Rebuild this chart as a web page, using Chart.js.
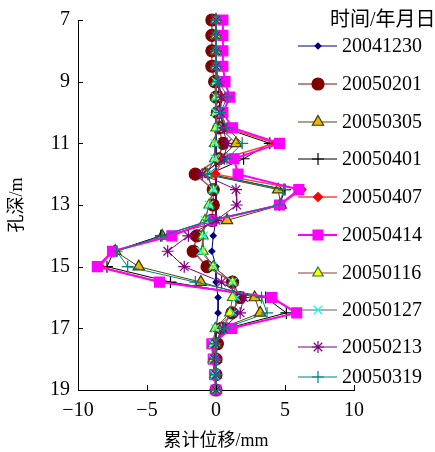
<!DOCTYPE html>
<html>
<head>
<meta charset="utf-8">
<script src="https://cdn.jsdelivr.net/npm/chart.js@4"></script>
<style>
  body { margin: 0; background: #fff; }
  #wrap { width: 435px; height: 452px; }
</style>
</head>
<body>
<div id="wrap"><canvas id="chart" width="435" height="452"></canvas></div>
<script>
// hole depth (m)
const depth = [7, 7.5, 8, 8.5, 9, 9.5, 10, 10.5, 11, 11.5, 12, 12.5, 13, 13.5, 14, 14.5, 15, 15.5, 16, 16.5, 17, 17.5, 18, 18.5, 19];

const seriesNames = ['20041230', '20050201', '20050305', '20050401', '20050407', '20050414', '20050116', '20050127', '20050213', '20050319'];

// accumulated displacement (mm), one array per date
const d20041230 = [0, 0, 0, 0, 0, 0, 0, 0, 0, 0, 0, 0, 0, 0, -0.2, -0.3, 0, 0, 0.15, 0.15, 0, 0, 0, 0, 0];
const d20050201 = [-0.3, -0.3, -0.3, -0.3, -0.1, 0, 0.1, 0.2, 0.5, 0.2, -1.5, -0.2, -0.2, -0.3, -1.4, -1.65, -0.65, 1.2, 1.75, 1.15, 0.4, 0.1, 0, 0, 0];
const d20050305 = [0, 0, 0, 0, 0.1, 0.3, 0.2, 0.3, 1.45, 0.3, -0.8, 4.5, 4.7, 0.8, -3.9, -7.3, -5.6, -1.1, 2.8, 3.2, 0.4, 0, 0, 0, 0];
const d20050401 = [0, 0, 0, 0, 0.1, 0.3, 0.3, 0.6, 3.9, 2.0, -0.5, 5.0, 4.6, -0.3, -4.0, -7.4, -7.9, -3.3, 3.6, 5.1, 0.8, 0, 0, 0, 0];
const d20050407 = [0, 0, 0, 0, 0.1, 0.4, 0.3, 0.8, 4.3, 0.5, -0.05, 6.2, 4.6, -0.3, -3.3, -7.5, -8.4, -4.0, 4.0, 5.8, 1.0, -0.2, 0, 0, 0];
const d20050414 = [0.5, 0.5, 0.5, 0.5, 0.65, 1.0, 0.5, 1.2, 4.6, 1.3, 1.6, 6.0, 4.6, -0.3, -3.2, -7.5, -8.6, -4.1, 4.05, 5.85, 1.15, -0.3, -0.2, -0.1, 0];
const d20050116 = [0, 0, 0, 0, 0, 0, 0, 0, -0.1, -0.1, -0.65, -0.2, -0.5, -0.8, -0.95, -0.95, -0.2, 1.2, 1.2, 1.0, -0.05, -0.2, -0.2, -0.1, 0];
const d20050127 = [0, 0, 0, 0, 0, 0, 0, 0.1, -0.1, -0.1, -0.7, -0.2, -0.5, -0.8, -0.9, -1.1, -0.2, 1.2, 1.5, 1.3, -0.05, -0.2, -0.2, -0.1, 0];
const d20050213 = [0, 0, 0, 0, 0.2, 0.4, 0.3, 0.5, 0.8, 0.6, -1.0, 1.45, 1.5, 0, -2.0, -3.5, -2.3, 0.4, 2.0, 1.75, 0.5, 0, -0.1, 0, 0];
const d20050319 = [0, 0, 0, 0, 0.2, 0.85, 0.3, 0.8, 1.9, 0.8, -0.6, 4.9, 4.6, -0.5, -3.9, -7.2, -6.4, -1.5, 3.3, 3.7, 0.6, 0, 0, 0, 0];

const allValues = [d20041230, d20050201, d20050305, d20050401, d20050407, d20050414, d20050116, d20050127, d20050213, d20050319];

const xTicks = [-10, -5, 0, 5, 10];
const yTicks = [7, 9, 11, 13, 15, 17, 19];

// look of each series: line colour, marker, marker fill, marker border
const styles = [
  { line: '#000080', pt: 'rectRot', r: 3, fill: '#000080', edge: '#000080', lw: 1 },
  { line: '#b05858', pt: 'circle', r: 6, fill: '#800000', edge: '#800000', lw: 1.5 },
  { line: '#4a4a00', pt: 'triangle', r: 6.5, fill: '#f0b400', edge: '#3a3a00', lw: 1 },
  { line: '#000000', pt: 'cross', r: 6, fill: '#000000', edge: '#000000', lw: 1 },
  { line: '#ff4040', pt: 'rectRot', r: 4.5, fill: '#ff0000', edge: '#ff0000', lw: 1.5 },
  { line: '#ff00ff', pt: 'rect', r: 7, fill: '#ff00ff', edge: '#ff00ff', lw: 2 },
  { line: '#8b3a3a', pt: 'triangle', r: 6, fill: '#ffff00', edge: '#208020', lw: 1 },
  { line: '#606060', pt: 'crossRot', r: 6, fill: '#00ffff', edge: '#00ffff', lw: 1 },
  { line: '#800080', pt: 'star', r: 6, fill: '#800080', edge: '#800080', lw: 1 },
  { line: '#008080', pt: 'cross', r: 6, fill: '#008080', edge: '#008080', lw: 1 }
];

const serif = "'Liberation Serif', 'Noto Sans CJK SC', serif";

const datasets = seriesNames.map((name, i) => ({
  label: name,
  data: allValues[i].map((v, k) => ({ x: v, y: depth[k] })),
  showLine: true,
  borderColor: styles[i].line,
  borderWidth: styles[i].lw,
  pointStyle: styles[i].pt,
  pointRadius: styles[i].r,
  pointBackgroundColor: styles[i].fill,
  pointBorderColor: styles[i].edge,
  pointBorderWidth: 1.2,
  tension: 0,
  clip: false,
  order: seriesNames.length - i
}));

// tick marks pointing into the plot + legend drawn inside the right side
const extras = {
  id: 'extras',
  afterDraw(chart) {
    const ctx = chart.ctx;
    const xs = chart.scales.x, ys = chart.scales.y;
    const a = chart.chartArea;
    ctx.save();
    ctx.strokeStyle = '#000';
    ctx.lineWidth = 1;
    ctx.beginPath();
    yTicks.forEach(t => {
      const py = Math.round(ys.getPixelForValue(t)) + 0.5;
      ctx.moveTo(a.left, py); ctx.lineTo(a.left + 5, py);
    });
    xTicks.forEach(t => {
      const px = Math.round(xs.getPixelForValue(t)) + 0.5;
      ctx.moveTo(px, a.bottom); ctx.lineTo(px, a.bottom - 5);
    });
    ctx.stroke();

    // legend
    ctx.fillStyle = '#000';
    ctx.font = '20px ' + serif;
    ctx.textBaseline = 'middle';
    ctx.textAlign = 'left';
    ctx.fillText('时间/年月日', 330, 21);
    const legendY = [46, 84, 122, 159, 197, 235, 273, 310, 347, 377];
    chart.data.datasets.forEach((ds, i) => {
      const y = legendY[i];
      ctx.strokeStyle = ds.borderColor;
      ctx.lineWidth = ds.borderWidth;
      ctx.beginPath();
      ctx.moveTo(298, y); ctx.lineTo(337, y);
      ctx.stroke();
      ctx.fillStyle = ds.pointBackgroundColor;
      ctx.strokeStyle = ds.pointBorderColor;
      ctx.lineWidth = 1.2;
      Chart.helpers.drawPoint(ctx, { pointStyle: ds.pointStyle, radius: ds.pointRadius, rotation: 0, borderWidth: 1.2 }, 318, y);
      ctx.fillStyle = '#000';
      ctx.fillText(ds.label, 342, y + 1);
    });
    ctx.restore();
  }
};

new Chart(document.getElementById('chart'), {
  type: 'scatter',
  data: { datasets: datasets },
  options: {
    responsive: false,
    animation: false,
    layout: { padding: { left: 0, right: 81, top: 16, bottom: 0 } },
    plugins: { legend: { display: false }, tooltip: { enabled: false } },
    scales: {
      x: {
        type: 'linear',
        min: -10, max: 10,
        afterFit: s => { s.height = 62; },
        afterBuildTicks: s => { s.ticks = xTicks.map(v => ({ value: v })); },
        grid: { display: true, drawOnChartArea: false, tickLength: 0 },
        border: { display: true, color: '#000', width: 1 },
        ticks: {
          color: '#000', padding: 9,
          font: { family: serif, size: 20 },
          callback: v => String(v).replace('-', '−')
        },
        title: { display: true, text: '累计位移/mm', color: '#000', font: { family: serif, size: 18 }, padding: { top: 0, bottom: 0 } }
      },
      y: {
        type: 'linear',
        reverse: true,
        min: 7, max: 19,
        afterFit: s => { s.width = 78; },
        afterBuildTicks: s => { s.ticks = yTicks.map(v => ({ value: v })); },
        grid: { display: true, drawOnChartArea: false, tickLength: 0 },
        border: { display: true, color: '#000', width: 1 },
        ticks: {
          color: '#000', padding: 8,
          font: { family: serif, size: 20 }
        },
        title: { display: true, text: '孔深/m', color: '#000', font: { family: serif, size: 18 }, padding: { top: 6, bottom: 0 } }
      }
    }
  },
  plugins: [extras]
});
</script>
</body>
</html>
